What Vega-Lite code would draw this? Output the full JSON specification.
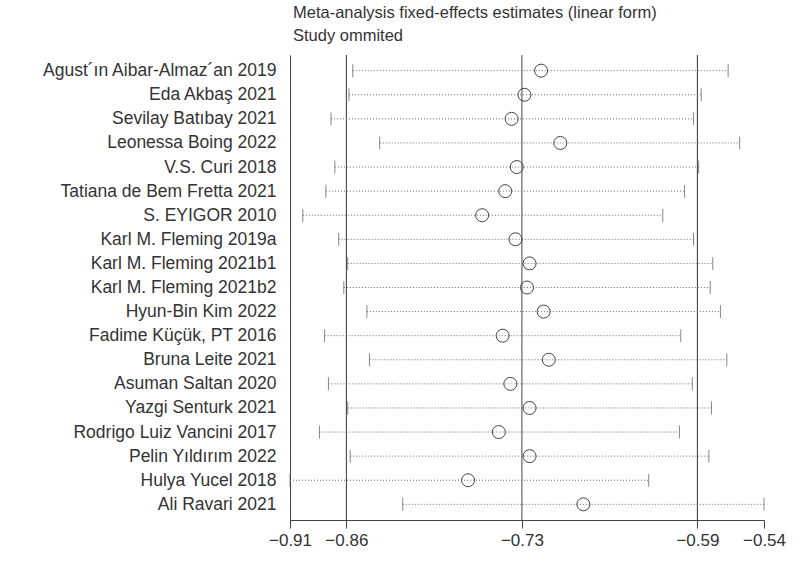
{
  "$schema": "https://vega.github.io/schema/vega-lite/v6.json",
  "width": 474,
  "height": 465,
  "autosize": {"type": "none"},
  "padding": {"left": 290, "top": 55, "right": 36, "bottom": 54},
  "config": {
    "view": {"stroke": null},
    "font": "Liberation Sans",
    "axis": {"grid": false, "titleFontWeight": "normal"}
  },
  "title": {
    "text": ["Meta-analysis fixed-effects estimates (linear form)", "Study ommited"],
    "anchor": "start",
    "frame": "group",
    "fontSize": 16.5,
    "fontWeight": "normal",
    "color": "#333333",
    "lineHeight": 23,
    "offset": 10,
    "dx": 3
  },
  "datasets": {
    "studies": [
      {"study": "Agust´ın Aibar-Almaz´an 2019", "est": -0.711, "lo": -0.858, "hi": -0.565},
      {"study": "Eda Akbaş 2021", "est": -0.724, "lo": -0.861, "hi": -0.586},
      {"study": "Sevilay Batıbay 2021", "est": -0.734, "lo": -0.875, "hi": -0.592},
      {"study": "Leonessa Boing 2022", "est": -0.696, "lo": -0.837, "hi": -0.556},
      {"study": "V.S. Curi 2018", "est": -0.730, "lo": -0.872, "hi": -0.588},
      {"study": "Tatiana de Bem Fretta 2021", "est": -0.739, "lo": -0.879, "hi": -0.599},
      {"study": "S. EYIGOR 2010", "est": -0.757, "lo": -0.897, "hi": -0.616},
      {"study": "Karl M. Fleming 2019a", "est": -0.731, "lo": -0.869, "hi": -0.592},
      {"study": "Karl M. Fleming 2021b1", "est": -0.720, "lo": -0.862, "hi": -0.577},
      {"study": "Karl M. Fleming 2021b2", "est": -0.722, "lo": -0.865, "hi": -0.579},
      {"study": "Hyun-Bin Kim 2022", "est": -0.709, "lo": -0.847, "hi": -0.571},
      {"study": "Fadime Küçük, PT 2016", "est": -0.741, "lo": -0.880, "hi": -0.602},
      {"study": "Bruna Leite 2021", "est": -0.705, "lo": -0.845, "hi": -0.566},
      {"study": "Asuman Saltan 2020", "est": -0.735, "lo": -0.877, "hi": -0.593},
      {"study": "Yazgi Senturk 2021", "est": -0.720, "lo": -0.862, "hi": -0.578},
      {"study": "Rodrigo Luiz Vancini 2017", "est": -0.744, "lo": -0.884, "hi": -0.603},
      {"study": "Pelin Yıldırım 2022", "est": -0.720, "lo": -0.860, "hi": -0.580},
      {"study": "Hulya Yucel 2018", "est": -0.768, "lo": -0.907, "hi": -0.627},
      {"study": "Ali Ravari 2021", "est": -0.678, "lo": -0.819, "hi": -0.537}
    ],
    "overall": [
      {"v": -0.863, "kind": "ci"},
      {"v": -0.726, "kind": "est"},
      {"v": -0.589, "kind": "ci"}
    ]
  },
  "layer": [
    {
      "data": {"name": "overall"},
      "mark": {"type": "rule"},
      "encoding": {
        "x": {"field": "v", "type": "quantitative"},
        "color": {
          "field": "kind", "type": "nominal", "legend": null,
          "scale": {"domain": ["ci", "est"], "range": ["#333333", "#8a8a8a"]}
        },
        "strokeWidth": {
          "field": "kind", "type": "nominal", "legend": null,
          "scale": {"domain": ["ci", "est"], "range": [1, 1.6]}
        }
      }
    },
    {
      "data": {"name": "studies"},
      "layer": [
        {
          "mark": {"type": "rule", "color": "#666666", "strokeDash": [1, 2], "strokeWidth": 1},
          "encoding": {
            "x": {"field": "lo", "type": "quantitative"},
            "x2": {"field": "hi"}
          }
        },
        {
          "mark": {"type": "tick", "color": "#555555", "thickness": 1, "size": 13, "orient": "vertical"},
          "encoding": {"x": {"field": "lo", "type": "quantitative"}}
        },
        {
          "mark": {"type": "tick", "color": "#555555", "thickness": 1, "size": 13, "orient": "vertical"},
          "encoding": {"x": {"field": "hi", "type": "quantitative"}}
        },
        {
          "mark": {"type": "point", "shape": "circle", "filled": false, "size": 169, "stroke": "#444444", "strokeWidth": 1, "opacity": 1},
          "encoding": {"x": {"field": "est", "type": "quantitative"}}
        }
      ],
      "encoding": {
        "y": {
          "field": "study", "type": "nominal", "sort": null,
          "scale": {"type": "point", "padding": 0.65},
          "axis": {
            "title": null, "ticks": false, "labelFontSize": 17.5, "labelColor": "#333333",
            "labelPadding": 14, "domainColor": "#444444", "labelLimit": 400
          }
        }
      }
    }
  ],
  "resolve": {"scale": {"x": "shared"}},
  "encoding": {
    "x": {
      "type": "quantitative",
      "scale": {"domain": [-0.907, -0.537], "nice": false, "zero": false},
      "axis": {
        "title": null,
        "values": [-0.907, -0.863, -0.726, -0.589, -0.537],
        "format": ".2f",
        "labelFontSize": 17,
        "labelColor": "#333333",
        "tickSize": 8,
        "tickColor": "#444444",
        "domainColor": "#444444",
        "labelPadding": 4,
        "labelFlush": false
      }
    }
  }
}
